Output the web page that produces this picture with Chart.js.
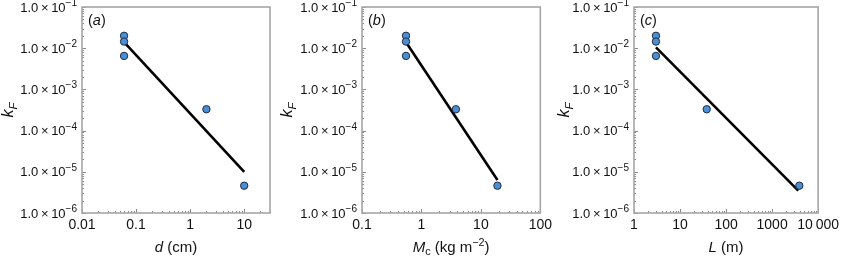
<!DOCTYPE html>
<html>
<head>
<meta charset="utf-8">
<script src="https://cdn.jsdelivr.net/npm/chart.js@4/dist/chart.umd.min.js"></script>
<style>
  body { margin: 0; background: #fff; }
  #wrap { position: relative; width: 843px; height: 257px; }
  .panel { position: absolute; top: 0; height: 257px; }
</style>
</head>
<body>
<div id="wrap">
  <div class="panel" style="left:0;width:280px"><canvas id="chartA"></canvas></div>
  <div class="panel" style="left:280px;width:276px"><canvas id="chartB"></canvas></div>
  <div class="panel" style="left:556px;width:287px"><canvas id="chartC"></canvas></div>
</div>
<script>
// data
const kF = [0.020, 0.0145, 0.0065, 3.3e-4, 4.6e-6];
const dCm = [0.06, 0.06, 0.06, 2, 10];
const mcKg = [0.55, 0.55, 0.55, 3.8, 19];
const lenM = [3, 3, 3, 38, 3900];

// fitted power-law lines (end points)
const fitAx = [0.06, 10], fitAy = [0.014, 1.0e-5];
const fitBx = [0.55, 19], fitBy = [0.014, 6.3e-6];
const fitCx = [3, 3700], fitCy = [0.0105, 3.5e-6];

// tick labels
const yTicks = [1e-6, 1e-5, 1e-4, 1e-3, 1e-2, 1e-1];
const yTickExp = ['\u22126', '\u22125', '\u22124', '\u22123', '\u22122', '\u22121'];
const xTicksA = [0.01, 0.1, 1, 10];
const xLabelsA = ['0.01', '0.1', '1', '10'];
const xTicksB = [0.1, 1, 10, 100];
const xLabelsB = ['0.1', '1', '10', '100'];
const xTicksC = [1, 10, 100, 1000, 10000];
const xLabelsC = ['1', '10', '100', '1000', '10\u2009000'];

const FONT = '"Liberation Sans", Arial, sans-serif';
const frameCol = '#a6a6a6';

// draw a list of text pieces: {t, it, sub, sup, size}
function richText(ctx, parts, x, y, size, align) {
  const szOf = p => p.size || ((p.sub || p.sup) ? size * 0.72 : size);
  const fontOf = p => (p.it ? 'italic ' : '') + szOf(p) + 'px ' + FONT;
  let w = 0;
  parts.forEach(p => { ctx.font = fontOf(p); w += ctx.measureText(p.t).width; });
  let cx = align === 'center' ? x - w / 2 : align === 'right' ? x - w : x;
  ctx.textBaseline = 'middle';
  ctx.textAlign = 'left';
  parts.forEach(p => {
    ctx.font = fontOf(p);
    let dy = p.sub ? size * 0.3 : p.sup ? -size * 0.36 : 0;
    ctx.fillText(p.t, cx, y + dy);
    cx += ctx.measureText(p.t).width;
  });
}

function decorPlugin(xTitle, panel, yLabelX) {
  return {
    id: 'decor',
    afterDraw(chart) {
      const ctx = chart.ctx, a = chart.chartArea;
      const xs = chart.scales.x, ys = chart.scales.y;
      ctx.save();
      // inward minor/major ticks on left and bottom
      ctx.strokeStyle = '#8a8a8a';
      ctx.lineWidth = 1;
      const tickSet = (scale, horiz) => {
        const lo = Math.floor(Math.log10(scale.min)), hi = Math.ceil(Math.log10(scale.max));
        for (let k = lo; k <= hi; k++) {
          for (let m = 1; m <= 9; m++) {
            const v = m * Math.pow(10, k);
            if (v < scale.min * 0.999 || v > scale.max * 1.001) continue;
            const p = Math.round(scale.getPixelForValue(v)) + 0.5;
            const len = m === 1 ? 4 : 2;
            ctx.beginPath();
            if (horiz) { ctx.moveTo(p, a.bottom); ctx.lineTo(p, a.bottom - len); }
            else { ctx.moveTo(a.left, p); ctx.lineTo(a.left + len, p); }
            ctx.stroke();
          }
        }
      };
      tickSet(xs, true);
      tickSet(ys, false);
      // frame
      ctx.strokeStyle = frameCol;
      ctx.lineWidth = 1.6;
      ctx.strokeRect(a.left, a.top, a.right - a.left, a.bottom - a.top);
      ctx.fillStyle = '#111';
      // y tick labels 1.0x10^n
      yTicks.forEach((v, i) => {
        const py = ys.getPixelForValue(v);
        richText(ctx, [{ t: '1.0\u2009\u00d7\u200910' }, { t: yTickExp[i], sup: true, size: 10 }],
          a.left - 5, py + 1, 13, 'right');
      });
      // titles
      richText(ctx, xTitle, (a.left + a.right) / 2, 248, 15, 'center');
      richText(ctx, [{ t: '(' }, { t: panel, it: true }, { t: ')' }], a.left + 6, 21, 14.5, 'left');
      ctx.translate(yLabelX, 110);
      ctx.rotate(-Math.PI / 2);
      richText(ctx, [{ t: 'k', it: true }, { t: 'F', it: true, sub: true }], 0, 0, 16, 'center');
      ctx.restore();
    }
  };
}

function makeChart(id, xs, fitX, fitY, xMin, xMax, xTicks, xLabels, yAxisW, padRight, xTitle, panel, yLabelX) {
  new Chart(document.getElementById(id), {
    type: 'scatter',
    data: {
      datasets: [
        {
          type: 'line',
          data: fitX.map((x, i) => ({ x: x, y: fitY[i] })),
          borderColor: '#000',
          borderWidth: 2.6,
          pointRadius: 0,
          fill: false,
          order: 2
        },
        {
          data: xs.map((x, i) => ({ x: x, y: kF[i] })),
          backgroundColor: '#4b8fd3',
          borderColor: '#1c2c44',
          borderWidth: 1,
          pointRadius: 3.7,
          order: 1
        }
      ]
    },
    options: {
      responsive: false,
      animation: false,
      devicePixelRatio: 1,
      layout: { padding: { top: 7, right: padRight, left: 0, bottom: 0 } },
      plugins: { legend: { display: false }, tooltip: { enabled: false } },
      scales: {
        x: {
          type: 'logarithmic',
          min: xMin, max: xMax,
          afterBuildTicks: s => { s.ticks = xTicks.map(v => ({ value: v })); },
          afterFit: s => { s.height = 44; },
          grid: { display: false, drawTicks: false },
          border: { display: false },
          ticks: {
            autoSkip: false, maxRotation: 0, padding: 4,
            color: '#111', font: { family: FONT, size: 14 },
            callback: (v) => xLabels[xTicks.indexOf(v)] ?? ''
          }
        },
        y: {
          type: 'logarithmic',
          min: 1e-6, max: 1e-1,
          afterBuildTicks: s => { s.ticks = yTicks.map(v => ({ value: v })); },
          afterFit: s => { s.width = yAxisW; },
          grid: { display: false, drawTicks: false },
          border: { display: false },
          ticks: { display: false }
        }
      }
    },
    plugins: [decorPlugin(xTitle, panel, yLabelX)]
  });
}

function size(id, w) {
  const c = document.getElementById(id);
  c.width = w; c.height = 257;
  c.style.width = w + 'px'; c.style.height = '257px';
}
size('chartA', 280); size('chartB', 276); size('chartC', 287);

makeChart('chartA', dCm, fitAx, fitAy, 0.01, 30, xTicksA, xLabelsA, 82, 10,
  [{ t: 'd', it: true }, { t: ' (cm)' }], 'a', 9);
makeChart('chartB', mcKg, fitBx, fitBy, 0.1, 100, xTicksB, xLabelsB, 82, 11,
  [{ t: 'M', it: true }, { t: 'c', sub: true }, { t: ' (kg m' }, { t: '\u22122', sup: true }, { t: ')' }], 'b', 8);
makeChart('chartC', lenM, fitCx, fitCy, 1, 10000, xTicksC, xLabelsC, 78, 18,
  [{ t: 'L', it: true }, { t: ' (m)' }], 'c', 9);
</script>
</body>
</html>
